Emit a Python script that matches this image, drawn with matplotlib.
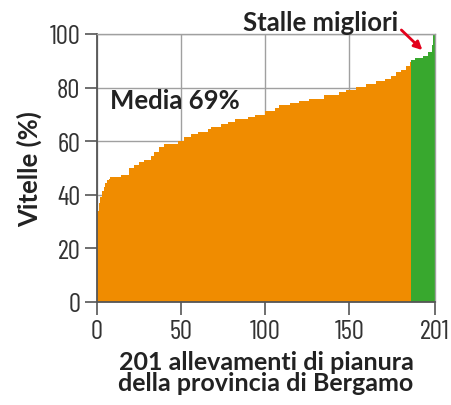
import matplotlib
matplotlib.use('Agg')
import matplotlib.pyplot as plt
import numpy as np

# step levels (% vitelle) read from the sorted profile, with number of farms per level
levels = [34, 37, 39, 41.5, 43, 44.5, 45.5, 46, 46.5, 47.5, 50, 51.2, 52.1, 53, 54.4,
          56, 57.7, 59, 60, 61.5, 62.7, 63.3, 64.5, 65.4, 66.4, 67, 68.3, 69.1, 69.9,
          71.4, 72.3, 73.5, 74.3, 74.9, 75.7, 77.2, 78.2, 79.2, 80.1, 81.3, 82.3, 83.2,
          84.4, 85.7, 86.7, 88.2, 89.7,
          90.4, 91, 91.9, 93.2, 96, 100]
counts = [1, 1, 1, 1, 1, 1, 1, 1, 6, 5, 3, 3, 3, 4, 2,
          3, 3, 8, 4, 4, 4, 6, 2, 6, 4, 4, 8, 4, 6,
          6, 2, 7, 5, 6, 9, 9, 4, 6, 6, 6, 5, 4,
          3, 3, 3, 2, 1,
          2, 5, 3, 2, 1, 1]
n_best = 14  # "stalle migliori"
xticks = [0, 50, 100, 150, 201]
yticks = [0, 20, 40, 60, 80, 100]

values = np.repeat(levels, counts)
n = len(values)
idx = np.arange(n)
orange = '#F08C00'
green = '#38A82E'
colors = [orange] * (n - n_best) + [green] * n_best

fig = plt.figure(figsize=(4.52, 4.06), dpi=100)
ax = fig.add_axes([0.2146, 0.2537, 0.7478, 0.6601])

ax.bar(idx, values, width=1.0, align='edge', color=colors, linewidth=0, zorder=2)

ax.set_xlim(0, n)
ax.set_ylim(0, 100)
ax.set_xticks(xticks)
ax.set_yticks(yticks)
ax.grid(True, color='#a0a0a0', linewidth=1, zorder=1)

for s in ['left', 'bottom']:
    ax.spines[s].set_color('#555555')
    ax.spines[s].set_linewidth(1.3)
for s in ['top', 'right']:
    ax.spines[s].set_color('#a0a0a0')
    ax.spines[s].set_linewidth(1)
ax.tick_params(length=9, width=1.2, color='#555555', pad=3)
for lab in ax.get_xticklabels() + ax.get_yticklabels():
    lab.set_fontfamily(['Barlow Condensed', 'DejaVu Sans'])
    lab.set_fontweight(400)
    lab.set_fontsize(19.5)
    lab.set_color('#333333')

bold = dict(family=['Lato', 'DejaVu Sans'], fontweight='bold', color='#222222')
ax.set_ylabel('Vitelle (%)', fontsize=18.5, labelpad=5, **bold)
ax.set_xlabel('201 allevamenti di pianura\ndella provincia di Bergamo', fontsize=18,
              linespacing=0.9, labelpad=5, **bold)

ax.text(7.7, 75.4, 'Media 69%', fontsize=18.5, ha='left', va='center', **bold)
ax.text(179, 101.5, 'Stalle migliori', fontsize=18.5, ha='right', va='baseline',
        clip_on=False, **bold)
ax.annotate('', xy=(193.5, 94), xytext=(181, 101.5), annotation_clip=False,
            arrowprops=dict(arrowstyle='-|>', color='#e3001b', lw=2, mutation_scale=12,
                            shrinkA=0, shrinkB=0))

fig.savefig('out.png', dpi=100)
